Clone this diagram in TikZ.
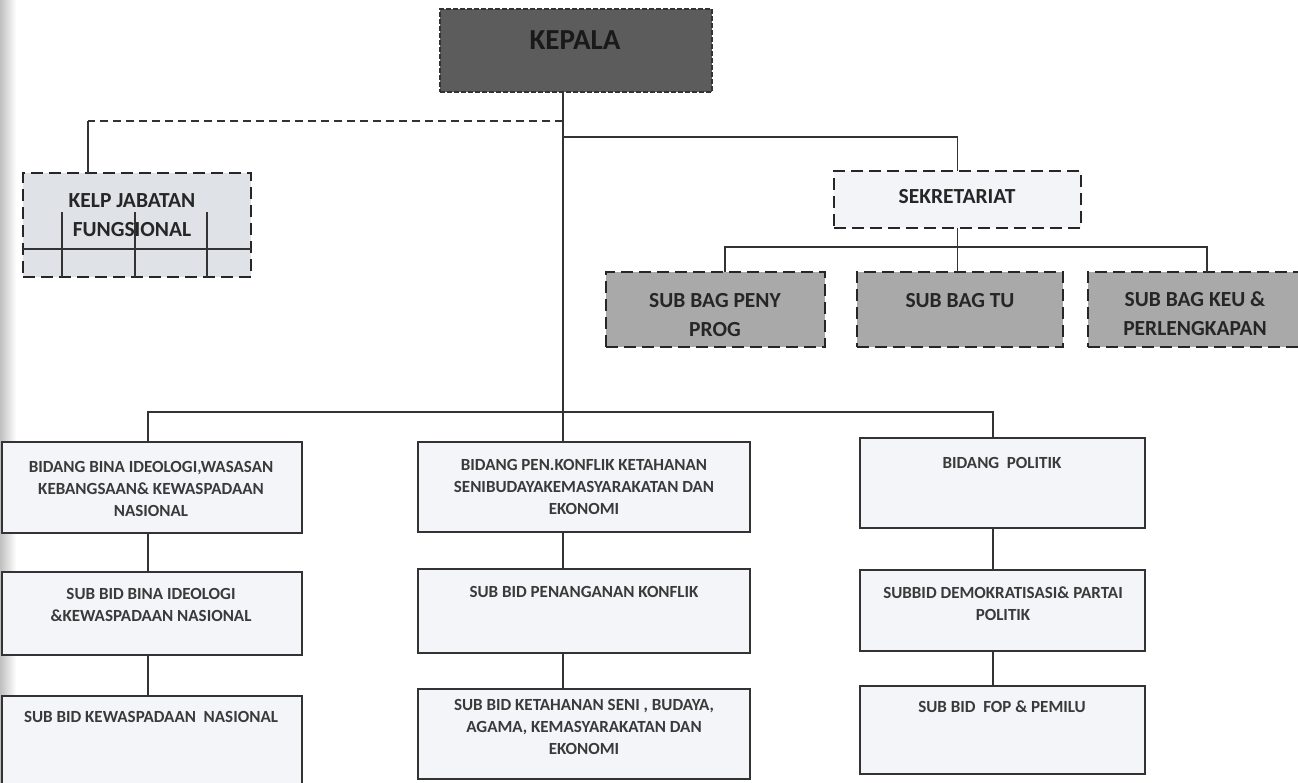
\documentclass[tikz,border=0pt]{standalone}
\usepackage{fontspec}
\setmainfont{Carlito}
\definecolor{kepfill}{HTML}{5C5C5C}
\definecolor{kelpfill}{HTML}{DFE3E8}
\definecolor{sekfill}{HTML}{F2F4F7}
\definecolor{subfill}{HTML}{A9A9A9}
\definecolor{lowfill}{HTML}{F3F5F8}
\definecolor{txtc}{HTML}{3A3A3A}
\newcommand\orgbox[6]{\node[#1, minimum width={#4-#2}, minimum height={#5-#3}] (#6) at ({(#2+#4)/2},{(#3+#5)/2}) {};}
\begin{document}
\begin{tikzpicture}[x=1pt,y=-1pt,
  box/.style={draw=black!85, line width=1.4pt, inner sep=0pt, outer sep=0pt},
  kepbox/.style={box, fill=kepfill, draw=black!80, dash pattern=on 5pt off 2pt, line width=2pt},
  dbox/.style={box, dash pattern=on 12pt off 6pt},
  sbox/.style={box, fill=lowfill, draw=black!80, line width=1.3pt},
  conn/.style={draw=black!80, line width=1.2pt},
  dconn/.style={conn, dash pattern=on 8pt off 5pt},
  txt/.style={font=\fontsize{17}{22}\selectfont\bfseries, text=txtc, align=center, anchor=north, inner sep=0pt},
  htxt/.style={font=\fontsize{21.5}{29}\selectfont\bfseries, text=black!85, align=center, anchor=north, inner sep=0pt}
]
\useasboundingbox (0,0) rectangle (1298,782);
\clip (0,0) rectangle (1298,782);
\fill[white] (0,0) rectangle (1298,782);
\shade[left color=black!25, right color=white] (0,0) rectangle (16,782);

% top level
\orgbox{kepbox}{440}{9}{712}{92}{kep}
\node[font=\fontsize{29}{34}\selectfont\bfseries, text=black!90, inner sep=0pt] (kept) at (575,40) {KEPALA};

\orgbox{dbox, fill=kelpfill}{23}{173}{251}{277}{kelp}
\draw[conn] (23,249) -- (251,249);
\draw[conn] (62,212) -- (62,277);
\draw[conn] (135,212) -- (135,277);
\draw[conn] (207,212) -- (207,277);
\node[htxt] (kelpt) at (132,193) {KELP JABATAN\\FUNGSIONAL};

\orgbox{dbox, fill=sekfill}{834}{171}{1081}{228}{sek}
\node[htxt, anchor=center] (sekt) at (957,197) {SEKRETARIAT};

\orgbox{dbox, fill=subfill}{606}{272}{825}{347}{peny}
\orgbox{dbox, fill=subfill}{857}{272}{1063}{347}{tu}
\orgbox{dbox, fill=subfill}{1088}{272}{1312}{347}{keu}
\node[htxt] (penyt) at (715,293) {SUB BAG PENY\\PROG};
\node[htxt] (tut) at (960,293) {SUB BAG TU};
\node[htxt] (keut) at (1195,291) {SUB BAG KEU \&\\PERLENGKAPAN};

% lower level
\orgbox{sbox}{2}{442}{302}{533}{b1}
\orgbox{sbox}{2}{572}{302}{655}{b2}
\orgbox{sbox}{2}{696}{302}{790}{b3}
\orgbox{sbox}{418}{442}{750}{532}{m1}
\orgbox{sbox}{418}{569}{750}{653}{m2}
\orgbox{sbox}{418}{689}{750}{779}{m3}
\orgbox{sbox}{860}{438}{1145}{528}{r1}
\orgbox{sbox}{860}{570}{1145}{651}{r2}
\orgbox{sbox}{860}{686}{1145}{774}{r3}

\node[txt] (b1t) at (151,461) {BIDANG BINA IDEOLOGI,WASASAN\\KEBANGSAAN\& KEWASPADAAN\\NASIONAL};
\node[txt] (b2t) at (151,588) {SUB BID BINA IDEOLOGI\\\&KEWASPADAAN NASIONAL};
\node[txt] (b3t) at (151,711) {SUB BID KEWASPADAAN\ \ NASIONAL};
\node[txt] (m1t) at (584,459) {BIDANG PEN.KONFLIK KETAHANAN\\SENIBUDAYAKEMASYARAKATAN DAN\\EKONOMI};
\node[txt] (m2t) at (584,586) {SUB BID PENANGANAN KONFLIK};
\node[txt] (m3t) at (584,699) {SUB BID KETAHANAN SENI , BUDAYA,\\AGAMA, KEMASYARAKATAN DAN\\EKONOMI};
\node[txt] (r1t) at (1002,457) {BIDANG\ \ POLITIK};
\node[txt] (r2t) at (1003,587) {SUBBID DEMOKRATISASI\& PARTAI\\POLITIK};
\node[txt] (r3t) at (1002,701) {SUB BID\ \ FOP \& PEMILU};

% connectors
\coordinate (spine) at (563,412);
\coordinate (dj) at (563,121);
\coordinate (kj) at (88,121);
\coordinate (sj) at (563,137);
\coordinate (sbL) at (725,247);
\coordinate (sbR) at (1207,247);
\coordinate (bl) at (148,412);
\coordinate (br) at (993,412);

\draw[conn] (kep.south -| spine) -- (spine);
\draw[dconn] (dj) -- (kj);
\draw[conn] (kj) -- (kj |- kelp.north);
\draw[conn] (sj) -| (sek.north);
\draw[conn] (sek.south) -- (sek.south |- sbL);
\draw[conn] (sbL |- peny.north) -- (sbL) -- (sbR) -- (sbR |- keu.north);
\draw[conn] (sek.south |- sbL) -- (sek.south |- tu.north);

\draw[conn] (bl |- b1.north) -- (bl) -- (br) -- (br |- r1.north);
\draw[conn] (spine) -- (spine |- m1.north);
\draw[conn] (b1.south -| bl) -- (b2.north -| bl);
\draw[conn] (b2.south -| bl) -- (b3.north -| bl);
\draw[conn] (m1.south -| spine) -- (m2.north -| spine);
\draw[conn] (m2.south -| spine) -- (m3.north -| spine);
\draw[conn] (r1.south -| br) -- (r2.north -| br);
\draw[conn] (r2.south -| br) -- (r3.north -| br);
\end{tikzpicture}
\end{document}
